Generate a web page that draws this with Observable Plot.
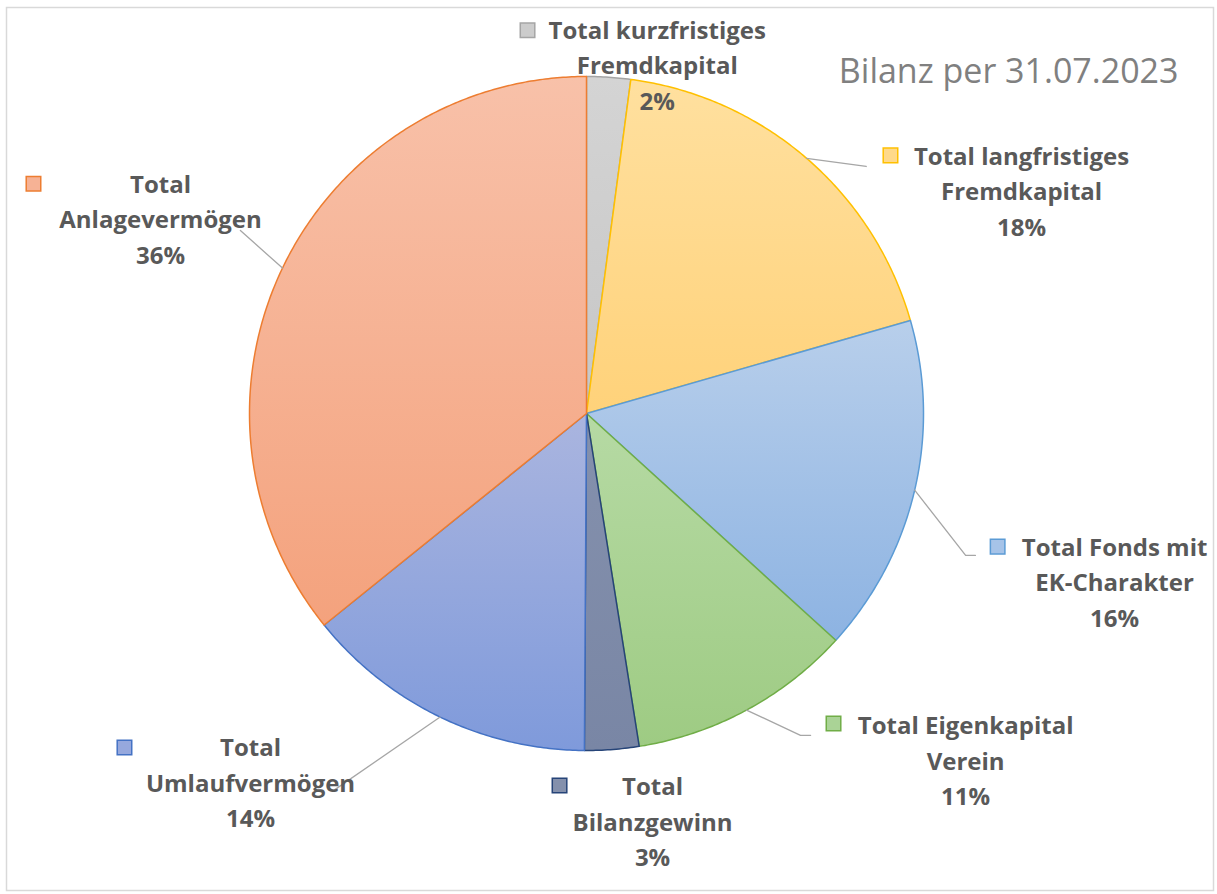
<!DOCTYPE html>
<html>
<head>
<meta charset="utf-8">
<script src="https://cdn.jsdelivr.net/npm/d3@7"></script>
<script src="https://cdn.jsdelivr.net/npm/@observablehq/plot@0.6"></script>
<style>
  body { margin: 0; background: #fff; }
  svg { display: block; }
</style>
</head>
<body>
<div id="chart"></div>
<script>
// ---- data ----
const categories = [
  "Total kurzfristiges Fremdkapital",
  "Total langfristiges Fremdkapital",
  "Total Fonds mit EK-Charakter",
  "Total Eigenkapital Verein",
  "Total Bilanzgewinn",
  "Total Umlaufvermögen",
  "Total Anlagevermögen"
];
const labelText = [
  "Total kurzfristiges\nFremdkapital",
  "Total langfristiges\nFremdkapital",
  "Total Fonds mit\nEK-Charakter",
  "Total Eigenkapital\nVerein",
  "Total\nBilanzgewinn",
  "Total\nUmlaufvermögen",
  "Total\nAnlagevermögen"
];
const values = [2.1, 18.45, 16.2, 10.75, 2.6, 14.1, 35.8];
const title = "Bilanz per 31.07.2023";

// ---- styles ----
const edgeColors   = ["#A5A5A5", "#FFC000", "#5B9BD5", "#70AD47", "#264478", "#4472C4", "#ED7D31"];
const topColors    = ["#D4D4D4", "#FFE09F", "#B8CFEB", "#B6DAA4", "#8591AD", "#AAB5DF", "#F8C1A9"];
const bottomColors = ["#C6C6C6", "#FFD27A", "#8DB3E2", "#9ECB83", "#7986A5", "#7F9ADB", "#F4A27D"];
const swatchColors = ["#CCCCCC", "#FFD98A", "#A6C3E8", "#AAD396", "#8490AC", "#96A8DD", "#F6B295"];

// ---- layout (units of pie radius, pie centre at 0,0) ----
const labelPos  = [[0.21, 1.04], [1.291, 0.666], [1.567, -0.494], [1.125, -1.023], [0.196, -1.204], [-0.997, -1.088], [-1.264, 0.583]];
const swatchPos = [[-0.175, 1.137], [0.902, 0.766], [1.220, -0.395], [0.733, -0.920], [-0.080, -1.104], [-1.371, -0.991], [-1.641, 0.682]];
const leaderEnds = [null, [[0.83, 0.733]], [[1.125, -0.421], [1.154, -0.421]], [[0.635, -0.955], [0.665, -0.955]], null, [[-0.751, -1.119]], [[-1.027, 0.543]]];

const W = 1217, H = 894, CX = 586, CY = 413, R = 337;
const total = d3.sum(values);

// slice polygons
const slices = [];
const leaders = [];
let cum = 0;
values.forEach((v, i) => {
  const a0 = cum / total * 2 * Math.PI;
  cum += v;
  const a1 = cum / total * 2 * Math.PI;
  const key = categories[i];
  const fill = `url(#g${i})`;
  const stroke = edgeColors[i];
  slices.push({key, x: 0, y: 0, fill, stroke});
  const n = Math.max(2, Math.ceil((a1 - a0) / (Math.PI / 360)));
  for (let k = 0; k <= n; k++) {
    const a = a0 + (a1 - a0) * k / n;
    slices.push({key, x: Math.sin(a), y: Math.cos(a), fill, stroke});
  }
  slices.push({key, x: 0, y: 0, fill, stroke});
  if (leaderEnds[i]) {
    const am = (a0 + a1) / 2;
    leaders.push({key, x: Math.sin(am), y: Math.cos(am)});
    leaderEnds[i].forEach(([x, y]) => leaders.push({key, x, y}));
  }
});

const labels = categories.map((c, i) => ({
  text: labelText[i] + "\n" + Math.round(values[i] / total * 100) + "%",
  x: labelPos[i][0], y: labelPos[i][1]
}));
const swatches = categories.map((c, i) => ({
  x: swatchPos[i][0], y: swatchPos[i][1], fill: swatchColors[i], stroke: edgeColors[i]
}));

const font = "'Open Sans', sans-serif";

const svg = Plot.plot({
  width: W, height: H,
  margin: 0,
  x: {domain: [-CX / R, (W - CX) / R], range: [0, W], axis: null},
  y: {domain: [(CY - H) / R, CY / R], range: [H, 0], axis: null},
  color: {type: "identity"},
  style: {fontFamily: font, background: "#fff"},
  marks: [
    Plot.frame({stroke: "#D9D9D9", strokeWidth: 1.5, insetLeft: 6, insetTop: 7, insetRight: 4, insetBottom: 4}),
    Plot.line(slices, {x: "x", y: "y", z: "key", fill: "fill", stroke: "stroke", strokeWidth: 1.5, strokeLinejoin: "round"}),
    Plot.line(leaders, {x: "x", y: "y", z: "key", stroke: "#A6A6A6", strokeWidth: 1.3}),
    Plot.dot(swatches, {x: "x", y: "y", symbol: "square", r: 8.2, fill: "fill", stroke: "stroke", strokeWidth: 1.5}),
    Plot.text(labels, {x: "x", y: "y", text: "text", fontSize: 24, fontWeight: "bold", fill: "#595959", lineHeight: 1.48, lineAnchor: "middle", textAnchor: "middle"}),
    Plot.text([title], {x: (1178 - CX) / R, y: (CY - 72) / R, text: d => d, textAnchor: "end", fontSize: 34, fill: "#808080"})
  ]
});

const defs = d3.select(svg).insert("defs", ":first-child");
categories.forEach((c, i) => {
  const g = defs.append("linearGradient").attr("id", "g" + i)
    .attr("x1", 0).attr("y1", 0).attr("x2", 0).attr("y2", 1);
  g.append("stop").attr("offset", "0%").attr("stop-color", topColors[i]);
  g.append("stop").attr("offset", "100%").attr("stop-color", bottomColors[i]);
});

document.getElementById("chart").appendChild(svg);
</script>
</body>
</html>
